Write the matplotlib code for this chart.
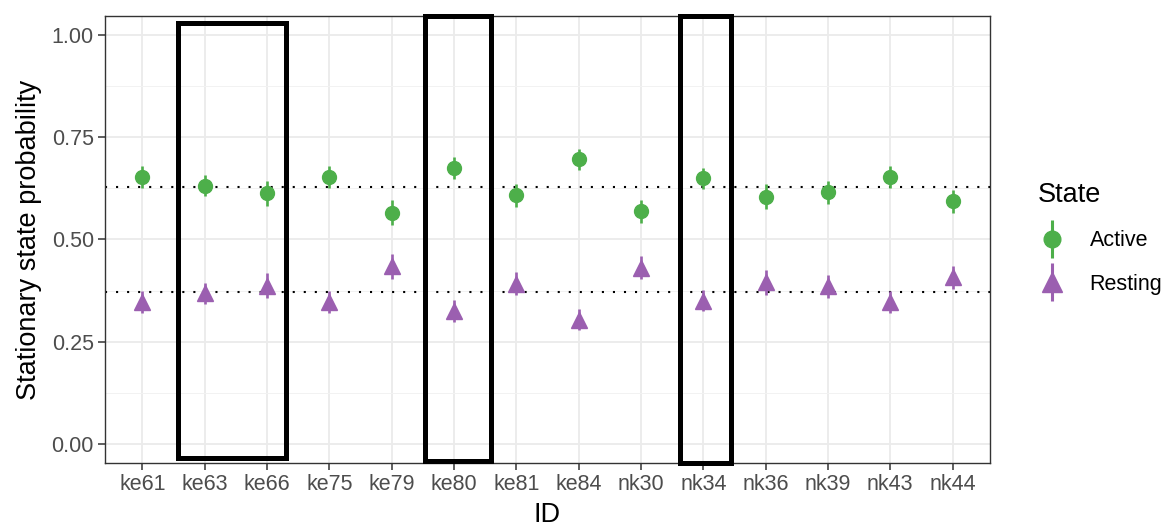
import numpy as np
import matplotlib
matplotlib.use("Agg")
import matplotlib.pyplot as plt
from matplotlib.patches import Rectangle
from matplotlib.lines import Line2D
from matplotlib.legend_handler import HandlerTuple
from matplotlib.ticker import MultipleLocator

plt.rcParams['font.family'] = ['Liberation Sans', 'DejaVu Sans']

# --- data ---
ids = ["ke61", "ke63", "ke66", "ke75", "ke79", "ke80", "ke81", "ke84",
       "nk30", "nk34", "nk36", "nk39", "nk43", "nk44"]
active = [0.654, 0.632, 0.613, 0.654, 0.566, 0.674, 0.608, 0.696,
          0.569, 0.650, 0.605, 0.615, 0.652, 0.593]
active_err = [0.027, 0.026, 0.030, 0.027, 0.030, 0.027, 0.028, 0.026,
              0.028, 0.026, 0.030, 0.028, 0.027, 0.028]
resting = [0.346, 0.368, 0.387, 0.346, 0.434, 0.326, 0.392, 0.304,
           0.431, 0.350, 0.395, 0.385, 0.348, 0.407]
resting_err = [0.027, 0.026, 0.030, 0.027, 0.030, 0.027, 0.028, 0.026,
               0.028, 0.026, 0.030, 0.028, 0.027, 0.028]
ref_lines = [0.628, 0.372]
# hand-drawn highlight boxes: (x0, x1, y0, y1) in data units
boxes = [(0.574, 2.309, -0.036, 1.031),
         (4.542, 5.586, -0.041, 1.048),
         (8.622, 9.442, -0.046, 1.046)]

green = "#4DAF4A"
purple = "#9B5FB0"

fig = plt.figure(figsize=(11.73, 5.29), dpi=100)
ax = fig.add_axes([0.0895, 0.1248, 0.7545, 0.845])

x = np.arange(len(ids))

for y in ref_lines:
    ax.axhline(y, color="black", linestyle=(0, (1, 4.3)), linewidth=1.5, zorder=2)

ax.errorbar(x, active, yerr=active_err, fmt="o", color=green, ms=10,
            elinewidth=1.9, capsize=0, zorder=3)
ax.errorbar(x, resting, yerr=resting_err, fmt="^", color=purple, ms=12,
            elinewidth=1.9, capsize=0, zorder=3)

ax.set_xlim(-0.6, len(ids) - 0.4)
ax.set_ylim(-0.047, 1.047)
ax.set_xticks(x)
ax.set_xticklabels(ids)
ax.yaxis.set_minor_locator(MultipleLocator(0.125))
ax.set_yticks([0, 0.25, 0.5, 0.75, 1.0])
ax.set_yticklabels(["0.00", "0.25", "0.50", "0.75", "1.00"])

ax.grid(True, which="major", color="#EBEBEB", linewidth=1.3, zorder=0)
ax.grid(True, which="minor", axis="y", color="#F2F2F2", linewidth=0.7, zorder=0)
ax.set_axisbelow(True)
for s in ax.spines.values():
    s.set_color("#333333")
    s.set_linewidth(1.0)

ax.tick_params(axis="both", which="major", colors="#333333", labelcolor="#4D4D4D",
               labelsize=15.5, length=5, width=1.1, pad=3)
ax.tick_params(axis="y", which="minor", length=0)
ax.set_xlabel("ID", fontsize=19.5, labelpad=5)
ax.set_ylabel("Stationary state probability", fontsize=19.5, labelpad=7)

for x0, x1, y0, y1 in boxes:
    ax.add_patch(Rectangle((x0, y0), x1 - x0, y1 - y0, fill=False,
                           edgecolor="black", linewidth=3.6,
                           clip_on=False, zorder=5))

# legend keys like ggplot: vertical line through the point
h_active = (Line2D([], [], color=green, marker="|", ms=27, mew=2.2, ls="none"),
            Line2D([], [], color=green, marker="o", ms=12, ls="none"))
h_rest = (Line2D([], [], color=purple, marker="|", ms=27, mew=2.2, ls="none"),
          Line2D([], [], color=purple, marker="^", ms=14, ls="none"))
leg = fig.legend(handles=[h_active, h_rest], labels=["Active", "Resting"],
                 title="State", handler_map={tuple: HandlerTuple(ndivide=1)},
                 loc="upper left", bbox_to_anchor=(0.872, 0.685), frameon=False,
                 fontsize=15.5, title_fontsize=19.5, handlelength=1.3,
                 handletextpad=1.1, labelspacing=1.05, borderpad=0.2)
leg._legend_box.align = "left"

fig.savefig("out.png", dpi=100)
